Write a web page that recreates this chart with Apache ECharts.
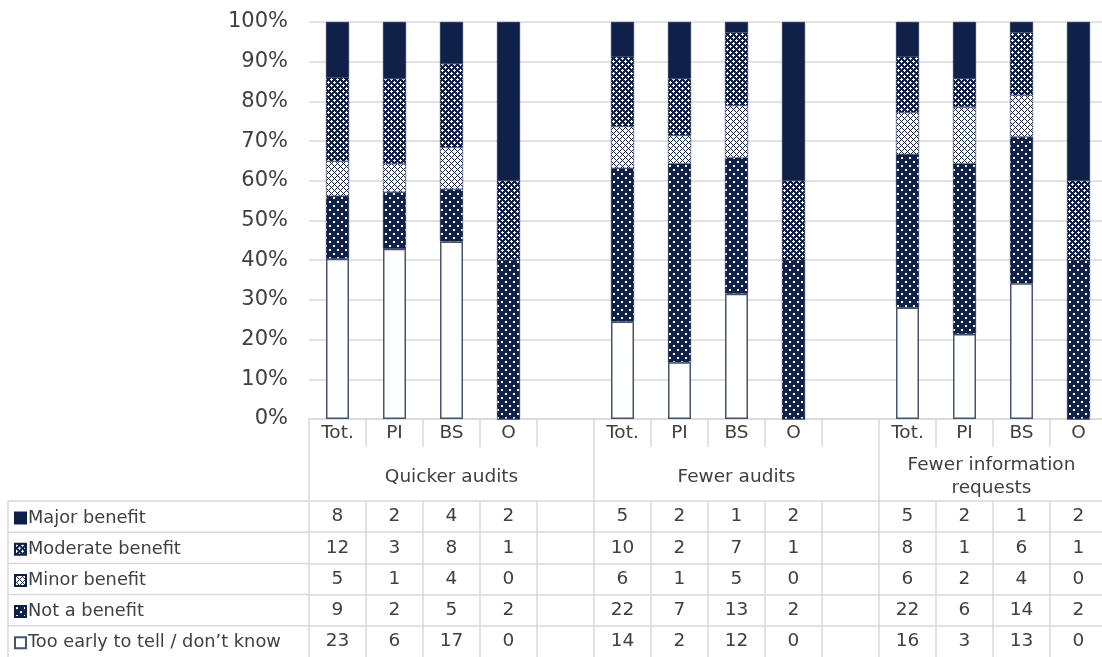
<!DOCTYPE html>
<html>
<head>
<meta charset="utf-8">
<script src="https://cdn.jsdelivr.net/npm/echarts@6/dist/echarts.min.js"></script>
<style>
html,body{margin:0;padding:0;background:#fff;overflow:hidden;width:1102px;height:657px;}
#chart{width:1166px;height:657px;}
</style>
</head>
<body>
<div id="chart"></div>
<script>
// ---- data ----
const categories = ['Tot.','PI','BS','O','', 'Tot.','PI','BS','O','', 'Tot.','PI','BS','O',''];
const groups = ['Quicker audits','Fewer audits','Fewer information\nrequests'];
const yTickLabels = ['0%','10%','20%','30%','40%','50%','60%','70%','80%','90%','100%'];
const seriesNames = ['Too early to tell / don\u2019t know','Not a benefit','Minor benefit','Moderate benefit','Major benefit'];
const tooEarly        = [23,6,17,0,null, 14,2,12,0,null, 16,3,13,0,null];
const notABenefit     = [9,2,5,2,null,   22,7,13,2,null, 22,6,14,2,null];
const minorBenefit    = [5,1,4,0,null,   6,1,5,0,null,   6,2,4,0,null];
const moderateBenefit = [12,3,8,1,null,  10,2,7,1,null,  8,1,6,1,null];
const majorBenefit    = [8,2,4,2,null,   5,2,1,2,null,   5,2,1,2,null];

// ---- styling ----
const NAVY = '#0f2148';
const TXT = '#404040';
const GRID = '#d9d9d9';
const FONT = 'DejaVu Sans, Verdana, sans-serif';
const FS = 18.5;

function makePattern(w, h, bg, fg, rects) {
  const c = document.createElement('canvas');
  c.width = w; c.height = h;
  const g = c.getContext('2d');
  g.fillStyle = bg; g.fillRect(0, 0, w, h);
  g.fillStyle = fg;
  rects.forEach(r => g.fillRect(r[0], r[1], r[2], r[3]));
  return { image: c, repeat: 'repeat' };
}
const patNot = makePattern(8, 8, NAVY, '#ffffff', [[1,1,2,2],[5,5,2,2]]);
const patModerate = makePattern(6, 6, NAVY, '#ffffff',
  [[1,0,1,1],[0,1,3,1],[1,2,1,1],[4,3,1,1],[3,4,3,1],[4,5,1,1]]);
const patMinor = makePattern(6, 6, '#ffffff', NAVY,
  [[0,0,1,1],[2,0,1,1],[1,1,1,1],[0,2,1,1],[2,2,1,1],[3,3,1,1],[5,3,1,1],[4,4,1,1],[3,5,1,1],[5,5,1,1]]);

const raw = [tooEarly, notABenefit, minorBenefit, moderateBenefit, majorBenefit];
const totals = categories.map((c, i) => raw.reduce((s, arr) => s + (arr[i] || 0), 0));
const pct = arr => arr.map((v, i) => (v == null || !totals[i]) ? '-' : v / totals[i] * 100);

const fills = [
  { color: '#ffffff', borderColor: '#44536e', borderWidth: 1.5 },
  { color: patNot, borderColor: NAVY, borderWidth: 0.5 },
  { color: patMinor, borderColor: NAVY, borderWidth: 0.5 },
  { color: patModerate, borderColor: NAVY, borderWidth: 0.5 },
  { color: NAVY, borderColor: NAVY, borderWidth: 0.5 }
];

// ---- layout ----
const GL = 309, GT = 22, GH = 397, GW = 855;
const GB = GT + GH;
const ROW_TOP = 501, ROW_H = 31.2;
const tableRows = [majorBenefit, moderateBenefit, minorBenefit, notABenefit, tooEarly];

const xAxes = [
  {
    type: 'category', gridIndex: 0, position: 'bottom', data: categories,
    axisLine: { show: true, lineStyle: { color: GRID, width: 1.5 } },
    axisTick: { show: true, interval: 0, length: 28, lineStyle: { color: GRID, width: 1.5 } },
    axisLabel: { interval: 0, margin: 14, verticalAlign: 'middle', color: TXT, fontSize: FS, fontFamily: FONT },
    splitLine: { show: false }
  },
  {
    type: 'category', gridIndex: 0, position: 'bottom', data: groups,
    axisLine: { show: false },
    axisTick: { show: true, interval: 0, length: ROW_TOP - GB, lineStyle: { color: GRID, width: 1.5 } },
    axisLabel: {
      interval: 0, margin: 58, verticalAlign: 'middle', color: TXT, fontSize: FS, lineHeight: 23, fontFamily: FONT,
      formatter: (v, idx) => idx === 2 ? v.split('\n').map(s => '{s|' + s + '}').join('\n') : v,
      rich: { s: { color: TXT, fontSize: FS, lineHeight: 23, fontFamily: FONT, padding: [0, 60, 0, 0] } }
    },
    splitLine: { show: false }
  }
];
tableRows.forEach((row, r) => {
  xAxes.push({
    type: 'category', gridIndex: 0, position: 'bottom', data: categories,
    offset: ROW_TOP + r * ROW_H - GB,
    axisLine: { show: true, lineStyle: { color: GRID, width: 1.5 } },
    axisTick: { show: true, interval: 0, length: ROW_H, lineStyle: { color: GRID, width: 1.5 } },
    axisLabel: {
      interval: 0, margin: ROW_H / 2, verticalAlign: 'middle', color: TXT, fontSize: FS, fontFamily: FONT,
      formatter: (v, idx) => row[idx] == null ? '' : String(row[idx])
    },
    splitLine: { show: false }
  });
});

const graphicEls = [];
for (let r = 0; r < tableRows.length; r++) {
  const y = ROW_TOP + r * ROW_H;
  graphicEls.push({ type: 'line', shape: { x1: 8, y1: y, x2: GL, y2: y }, style: { stroke: GRID, lineWidth: 1.5 } });
}
graphicEls.push({ type: 'line', shape: { x1: 8, y1: ROW_TOP, x2: 8, y2: 657 }, style: { stroke: GRID, lineWidth: 1.5 } });

const option = {
  animation: false,
  backgroundColor: '#ffffff',
  textStyle: { fontFamily: FONT },
  grid: { left: GL, top: GT, width: GW, height: GH, containLabel: false },
  legend: {
    orient: 'vertical', left: 14, top: ROW_TOP + 8, padding: 0,
    itemWidth: 11, itemHeight: 11, itemGap: 13.2, icon: 'rect',
    data: seriesNames.slice().reverse(),
    selectedMode: false,
    textStyle: { color: TXT, fontSize: 17.8, lineHeight: 18, fontFamily: FONT, padding: [0, 0, 0, -3] }
  },
  xAxis: xAxes,
  yAxis: {
    type: 'value', min: 0, max: 100, interval: 10,
    axisLine: { show: false }, axisTick: { show: false },
    axisLabel: { margin: 21, color: TXT, fontSize: 21, fontFamily: FONT,
      formatter: v => yTickLabels[Math.round(v / 10)] },
    splitLine: { lineStyle: { color: GRID, width: 1.5 } }
  },
  graphic: graphicEls,
  series: raw.map((arr, k) => ({
    name: seriesNames[k], type: 'bar', stack: 'total', xAxisIndex: 0,
    barWidth: 23, data: pct(arr), itemStyle: fills[k]
  }))
};

const chart = echarts.init(document.getElementById('chart'));
chart.setOption(option);
</script>
</body>
</html>
